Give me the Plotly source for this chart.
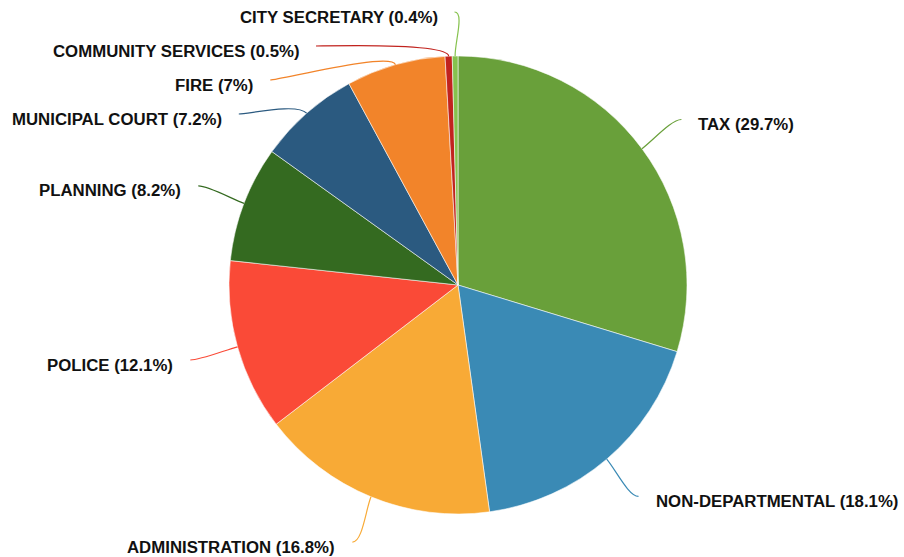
import math
import plotly.graph_objects as go

# Departmental share of the budget (percent), clockwise from 12 o'clock
departments = [
    "TAX", "NON-DEPARTMENTAL", "ADMINISTRATION", "POLICE", "PLANNING",
    "MUNICIPAL COURT", "FIRE", "COMMUNITY SERVICES", "CITY SECRETARY",
]
shares = [29.7, 18.1, 16.8, 12.1, 8.2, 7.2, 7.0, 0.5, 0.4]
colors = [
    "#69a03a", "#3a8ab5", "#f8aa36", "#fa4a37", "#346a20",
    "#2b5a80", "#f2842a", "#c1231e", "#86c24e",
]

W, H = 904, 557
CX, CY, R = 458, 285, 229          # pie centre and radius in pixels
R_LABEL = R + 49                   # ring where leader lines end
R_ELBOW = R + 14                   # radial bend of each leader line
GAP = 34                           # minimum vertical spacing of labels
TOP = 12                           # highest allowed label row
FONT = dict(family="Liberation Sans, Arial, sans-serif", size=16.8, color="#111")

fig = go.Figure()
fig.add_trace(go.Pie(
    labels=departments,
    values=shares,
    sort=False,
    direction="clockwise",
    rotation=0,
    marker=dict(colors=colors, line=dict(color="rgba(255,255,255,0.55)", width=1)),
    textinfo="none",
    hoverinfo="label+percent",
    showlegend=False,
    domain=dict(x=[(CX - R) / W, (CX + R) / W], y=[(H - CY - R) / H, (H - CY + R) / H]),
))

# mid angle of each slice, degrees clockwise from the top
total = sum(shares)
mids, acc = [], 0.0
for v in shares:
    mids.append((acc + v / 2) / total * 360)
    acc += v


def polar(radius, deg):
    a = math.radians(deg)
    return CX + radius * math.sin(a), CY - radius * math.cos(a)


ends = [polar(R_LABEL, m) for m in mids]

# left-hand labels: walk from the top downward and push apart where crowded
left = sorted([i for i, m in enumerate(mids) if m > 180], key=lambda i: -mids[i])
prev = None
for i in left:
    x, y = ends[i]
    if prev is None:
        if y < TOP:
            y = TOP
    elif y < prev + GAP:
        y = prev + GAP
        dy = y - CY
        x = CX - math.sqrt(max(R_LABEL ** 2 - dy ** 2, 0))
    ends[i] = (x, y)
    prev = y

shapes, annotations = [], []
for i, (name, v, c, m) in enumerate(zip(departments, shares, colors, mids)):
    sx, sy = polar(R, m)
    px, py = polar(R_ELBOW, m)
    ex, ey = ends[i]
    right = ex > CX
    hx = ex - 10 if right else ex + 10
    path = f"M {sx:.1f},{sy:.1f} C {px:.1f},{py:.1f} {hx:.1f},{ey:.1f} {ex:.1f},{ey:.1f}"
    shapes.append(dict(type="path", path=path, xref="x", yref="y",
                       line=dict(color=c, width=1.2), layer="above"))
    label = f"{v:g}%"
    annotations.append(dict(
        x=ex + (15 if right else -15), y=ey + 5, xref="x", yref="y",
        text=f"<b>{name} ({label})</b>", showarrow=False,
        xanchor="left" if right else "right", yanchor="middle", font=FONT,
    ))

fig.update_layout(
    width=W, height=H,
    margin=dict(l=0, r=0, t=0, b=0),
    paper_bgcolor="white", plot_bgcolor="rgba(0,0,0,0)",
    xaxis=dict(range=[0, W], visible=False, fixedrange=True),
    yaxis=dict(range=[H, 0], visible=False, fixedrange=True),
    shapes=shapes, annotations=annotations,
)

fig.write_html("out.html")
